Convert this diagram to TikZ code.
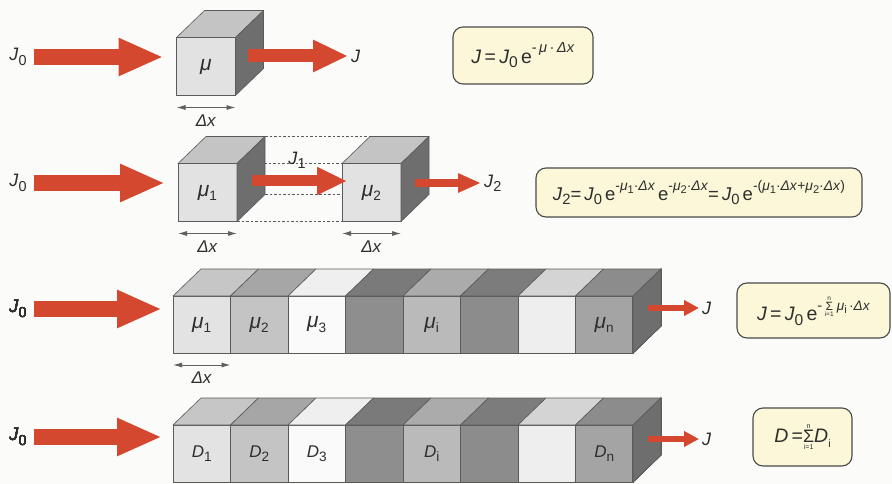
\documentclass[tikz,border=0pt]{standalone}
\usepackage{fontspec}
\setmainfont{Liberation Sans}
\usetikzlibrary{arrows.meta,calc}
\pgfdeclarelayer{deep}
\pgfdeclarelayer{back}
\pgfsetlayers{deep,back,main}
\definecolor{bg}{HTML}{FBFBFA}
\definecolor{txt}{HTML}{2E2E2E}
\definecolor{arrowred}{HTML}{D4482F}
\definecolor{boxfill}{HTML}{FBF7D8}
\definecolor{boxedge}{HTML}{4A4A4A}
\definecolor{edgegray}{HTML}{5A5A5A}
\definecolor{cubefront}{HTML}{E2E2E2}
\definecolor{cubetop}{HTML}{C4C4C4}
\definecolor{cubeside}{HTML}{6E6E6E}
\definecolor{sf1}{HTML}{E3E3E3}\definecolor{st1}{HTML}{C6C6C6}
\definecolor{sf2}{HTML}{C4C4C4}\definecolor{st2}{HTML}{A6A6A6}
\definecolor{sf3}{HTML}{FAFAFA}\definecolor{st3}{HTML}{EFEFEF}
\definecolor{sf4}{HTML}{8E8E8E}\definecolor{st4}{HTML}{7A7A7A}
\definecolor{sf5}{HTML}{BABABA}\definecolor{st5}{HTML}{ABABAB}
\definecolor{sf6}{HTML}{8C8C8C}\definecolor{st6}{HTML}{7C7C7C}
\definecolor{sf7}{HTML}{EEEEEE}\definecolor{st7}{HTML}{D4D4D4}
\definecolor{sf8}{HTML}{A4A4A4}\definecolor{st8}{HTML}{8C8C8C}
\newcommand\lo[1]{\raisebox{-0.45ex}{\scalebox{0.8}{#1}}}
\newcommand\hi[1]{\raisebox{1.0ex}{\scalebox{0.75}{#1}}}
\newcommand\gmu{\textit{μ}}
\newcommand\bigmu{{\fontsize{21}{22}\selectfont\gmu}}
\newcommand\gdx{\textit{Δx}}
\newcommand\jj{\textit{J}}
\newcommand\dd{\textit{D}}
\newcommand\sumlim[2]{\ensuremath{\mathop{\hbox{\fontsize{#1}{#1}\selectfont Σ}}\limits_{\hbox{\fontsize{#2}{#2}\selectfont i=1}}^{\hbox{\fontsize{#2}{#2}\selectfont n}}}}
\newcommand\cubetopface[3]{\filldraw[face, fill=#3] (#1.north west) -- ++(28,-27) -- ++(#2,0) -- (#1.north east) -- cycle;}
\newcommand\cubesideface[3]{\filldraw[face, fill=#3] (#1.north east) -- ++(28,-27) -- ++(0,#2) -- (#1.south east) -- cycle;}
\tikzset{
  face/.style={draw=edgegray, line width=0.6pt, line join=round},
  front/.style={face, fill=cubefront, minimum width=59pt, minimum height=58pt, inner sep=0pt, outer sep=0pt, text=txt, font=\fontsize{17}{19}\selectfont},
  seg/.style={face, minimum width=57.5pt, minimum height=57pt, inner sep=0pt, outer sep=0pt, text=txt, font=\fontsize{17}{19}\selectfont},
  lbl/.style={inner sep=3pt, text=txt, font=\fontsize{18}{20}\selectfont},
  dxlab/.style={inner sep=1pt, text=txt, font=\fontsize{17}{19}\selectfont},
  dxarrow/.style={draw=gray!75!black, line width=0.9pt, {Latex[length=9pt,width=5pt]}-{Latex[length=9pt,width=5pt]}},
  hidden/.style={draw=edgegray, line width=0.7pt, dash pattern=on 2.5pt off 2pt},
  redarrow/.style n args={3}{draw=arrowred, line width=#1, -{Triangle[length=#2,width=#3]}},
  fbox/.style={draw=boxedge, line width=1.1pt, fill=boxfill, rounded corners=10pt, inner sep=0pt, text=txt, font=\fontsize{19.5}{21}\selectfont},
}
\begin{document}
\begin{tikzpicture}[x=1pt,y=-1pt]
\begin{pgfonlayer}{deep}
\fill[bg] (0,0) rectangle (892,484);
\end{pgfonlayer}
\useasboundingbox (0,0) rectangle (892,484);

% ---------------- Row 1 ----------------
\node[front] (c1) at (206,66.5) {\bigmu};
\cubetopface{c1}{59}{cubetop}
\cubesideface{c1}{58}{cubeside}
\node[lbl] (j0a) at (18,57) {\jj\lo{0}};
\draw[redarrow={16pt}{45pt}{35pt}, shorten <=4pt, shorten >=13pt] (j0a.east) -- (j0a.east -| c1.west);
\node[lbl, anchor=west] (ja) at (348,56) {\jj};
\draw[redarrow={13pt}{35pt}{30pt}] ($(c1.east |- ja.west)+(12,0)$) -- (ja.west);
\draw[dxarrow] ($(c1.south west)+(0,12)$) -- ($(c1.south east)+(0,12)$);
\node[dxlab] (dx1) at ($(c1.south)+(0,25)$) {\gdx};
\node[fbox, minimum width=140pt, minimum height=57pt] (f1) at (523,55.5)
  {\jj\,=\,\jj\lo{0}\,e\hi{-\,\gmu\,·\,\gdx}};

% ---------------- Row 2 ----------------
\node[front] (c2a) at (207.5,192.5) {\bigmu\lo{1}};
\node[front] (c2b) at (371.5,192.5) {\bigmu\lo{2}};
\begin{pgfonlayer}{back}
\draw[hidden] ($(c2a.north east)+(28,-27)$) -- ($(c2b.north west)+(28,-27)$);
\draw[hidden] (c2a.north east) -- (c2b.north west);
\draw[hidden] ($(c2a.south east)+(28,-27)$) -- ($(c2b.south west)+(28,-27)$);
\draw[hidden] (c2a.south east) -- (c2b.south west);
\end{pgfonlayer}
\cubetopface{c2a}{59}{cubetop}
\cubesideface{c2a}{58}{cubeside}
\cubetopface{c2b}{59}{cubetop}
\cubesideface{c2b}{58}{cubeside}
\node[lbl] (j0b) at (18,183) {\jj\lo{0}};
\draw[redarrow={16pt}{45pt}{35pt}, shorten <=4pt, shorten >=13pt] (j0b.east) -- (j0b.east -| c2a.west);
\draw[redarrow={11pt}{30pt}{26pt}] ($(c2a.east)+(15,-11.5)$) -- ($(c2b.west)+(5,-11.5)$);
\node[lbl] (j1) at (297,160) {\jj\lo{1}};
\node[lbl, anchor=west] (j2) at (481,183) {\jj\lo{2}};
\draw[redarrow={8pt}{23pt}{18pt}] ($(c2b.east |- j2.west)+(14,0)$) -- (j2.west);
\draw[dxarrow] ($(c2a.south west)+(0,12)$) -- ($(c2a.south east)+(0,12)$);
\node[dxlab] (dx2a) at ($(c2a.south)+(0,25)$) {\gdx};
\draw[dxarrow] ($(c2b.south west)+(0,12)$) -- ($(c2b.south east)+(0,12)$);
\node[dxlab] (dx2b) at ($(c2b.south)+(0,25)$) {\gdx};
\node[fbox, minimum width=326pt, minimum height=49pt, font=\fontsize{18.5}{20}\selectfont] (f2) at (699,192.5)
  {\jj\lo{2}=\,\jj\lo{0}\,e\hi{-\gmu\lo{1}·\gdx}\,e\hi{-\gmu\lo{2}·\gdx}=\,\jj\lo{0}\,e\hi{-(\gmu\lo{1}·\gdx+\gmu\lo{2}·\gdx)}};

% ---------------- Row 3 ----------------
\foreach \i/\fc/\lab in {1/sf1/{\bigmu\lo{1}},2/sf2/{\bigmu\lo{2}},3/sf3/{\bigmu\lo{3}},4/sf4/{},5/sf5/{\bigmu\lo{i}},6/sf6/{},7/sf7/{},8/sf8/{\bigmu\lo{n}}}
  \node[seg, fill=\fc] (r3s\i) at ({173+57.5*(\i-0.5)},324.5) {\lab};
\foreach \i/\tc in {1/st1,2/st2,3/st3,4/st4,5/st5,6/st6,7/st7,8/st8}
  \cubetopface{r3s\i}{57.5}{\tc}
\cubesideface{r3s8}{57}{cubeside}
\node[lbl] (j0c) at (18,309) {\jj\lo{0}};
\draw[redarrow={16pt}{45pt}{35pt}, shorten <=4pt, shorten >=11pt] (j0c.east) -- (j0c.east -| r3s1.west);
\node[lbl, anchor=west] (j3) at (699,308) {\jj};
\draw[redarrow={6pt}{15pt}{15pt}] ($(r3s8.east |- j3.west)+(15,0)$) -- (j3.west);
\draw[dxarrow] ($(r3s1.south west)+(0,12)$) -- ($(r3s1.south east)+(0,12)$);
\node[dxlab] (dx3) at ($(r3s1.south)+(0,25)$) {\gdx};
\node[fbox, minimum width=153pt, minimum height=55pt] (f3) at (813.5,310.5)
  {\jj\,=\,\jj\lo{0}\,e\raisebox{1.0ex}{\scalebox{0.75}{-\,}\sumlim{12}{6.5}\,\scalebox{0.7}{\gmu\lo{i}\,·\gdx}}};

% ---------------- Row 4 ----------------
\foreach \i/\fc/\lab in {1/sf1/{\dd\lo{1}},2/sf2/{\dd\lo{2}},3/sf3/{\dd\lo{3}},4/sf4/{},5/sf5/{\dd\lo{i}},6/sf6/{},7/sf7/{},8/sf8/{\dd\lo{n}}}
  \node[seg, fill=\fc] (r4s\i) at ({173+57.5*(\i-0.5)},453.5) {\lab};
\foreach \i/\tc in {1/st1,2/st2,3/st3,4/st4,5/st5,6/st6,7/st7,8/st8}
  \cubetopface{r4s\i}{57.5}{\tc}
\cubesideface{r4s8}{57}{cubeside}
\node[lbl] (j0d) at (18,437) {\jj\lo{0}};
\draw[redarrow={16pt}{45pt}{35pt}, shorten <=4pt, shorten >=11pt] (j0d.east) -- (j0d.east -| r4s1.west);
\node[lbl, anchor=west] (j4) at (699,439) {\jj};
\draw[redarrow={6pt}{15pt}{15pt}] ($(r4s8.east |- j4.west)+(15,0)$) -- (j4.west);
\node[fbox, minimum width=99pt, minimum height=58pt] (f4) at (802.5,437)
  {\dd\,=\sumlim{18}{7}\dd\raisebox{-0.45ex}{\scalebox{0.55}{i}}};
\end{tikzpicture}
\end{document}
